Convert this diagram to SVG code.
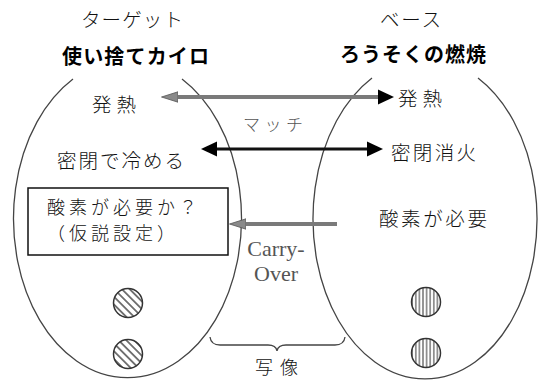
<svg xmlns="http://www.w3.org/2000/svg" width="538" height="381" viewBox="0 0 538 381">
  <style>
    .t { font-family: "Noto Sans CJK JP", "Noto Sans", sans-serif; font-size: 19.5px; font-weight: 300; fill: #111; }
    .bx { font-family: "Noto Sans CJK JP", "Noto Sans", sans-serif; font-size: 18px; font-weight: 300; fill: #111; }
    .b { font-family: "Noto Sans CJK JP", "Noto Sans", sans-serif; font-size: 20px; font-weight: 700; fill: #000; }
    .m { font-family: "Noto Sans CJK JP", "Noto Sans", sans-serif; font-size: 17px; font-weight: 300; fill: #555; }
    .e { font-family: "Liberation Serif", serif; font-size: 22px; fill: #555; text-anchor: middle; }
    .outline { fill: none; stroke: #444; stroke-width: 1.3; }
    .dot { stroke: #333; stroke-width: 1.5; }
    .box { fill: #fff; stroke: #111; stroke-width: 1.5; }
    .ga { fill: none; stroke: #7a7a7a; stroke-width: 4; }
    .ka { fill: none; stroke: #111; stroke-width: 3; }
  </style>
  <defs>
    <pattern id="diag" patternUnits="userSpaceOnUse" width="5.5" height="5.5" patternTransform="rotate(-45)">
      <line x1="2.75" y1="-1" x2="2.75" y2="6.5" stroke="#333" stroke-width="1.3"/>
    </pattern>
    <pattern id="vert" patternUnits="userSpaceOnUse" width="3.6" height="4">
      <line x1="1.8" y1="-1" x2="1.8" y2="5" stroke="#333" stroke-width="1"/>
    </pattern>
    <marker id="headK" markerUnits="userSpaceOnUse" viewBox="0 0 16 16" refX="0" refY="8" markerWidth="16" markerHeight="16" orient="auto-start-reverse">
      <path d="M0,0.5 L16,8 L0,15.5 z" fill="#000"/>
    </marker>
    <marker id="headG" markerUnits="userSpaceOnUse" viewBox="0 0 17 12" refX="0" refY="6" markerWidth="17" markerHeight="12" orient="auto-start-reverse">
      <path d="M0,0.8 L16.5,6 L0,11.2 z" fill="#8a8a8a" stroke="#555" stroke-width="0.8"/>
    </marker>
  </defs>
  <rect width="538" height="381" fill="#fff"/>

  <g id="target">
    <path class="outline" d="M73,79 A114,159 0 1 0 182,79"/>
    <text class="t" x="81" y="27" textLength="102" lengthAdjust="spacing">ターゲット</text>
    <text class="b" x="62" y="64" textLength="147" lengthAdjust="spacing">使い捨てカイロ</text>
  </g>

  <g id="base">
    <path class="outline" d="M372,78 A112,160 0 1 0 478,78"/>
    <text class="t" x="380" y="27" textLength="61" lengthAdjust="spacing">ベース</text>
    <text class="b" x="340" y="62" textLength="146" lengthAdjust="spacing">ろうそくの燃焼</text>
  </g>

  <g id="connectors">
    <path class="ga" d="M178,97 L378,97" marker-start="url(#headG)" marker-end="url(#headK)"/>
    <path class="ka" d="M217,149 L367,149" marker-start="url(#headK)" marker-end="url(#headK)"/>
    <path class="ga" d="M246,224 L337,224" marker-start="url(#headG)"/>
  </g>

  <g id="t-heat">
    <text class="t" x="92" y="112" textLength="44" lengthAdjust="spacing">発熱</text>
  </g>
  <g id="t-seal">
    <text class="t" x="57" y="168" textLength="127" lengthAdjust="spacing">密閉で冷める</text>
  </g>
  <g id="t-hypo">
    <rect class="box" x="28" y="188" width="200" height="67"/>
    <text class="bx" x="47" y="214" textLength="150" lengthAdjust="spacing">酸素が必要か？</text>
    <text class="bx" x="47" y="240" textLength="128" lengthAdjust="spacing">（仮説設定）</text>
  </g>
  <g id="t-dots">
    <circle class="dot" cx="128" cy="303" r="14.5" fill="url(#diag)"/>
    <circle class="dot" cx="128" cy="354" r="14.5" fill="url(#diag)"/>
  </g>

  <g id="b-heat">
    <text class="t" x="398" y="106" textLength="44" lengthAdjust="spacing">発熱</text>
  </g>
  <g id="b-seal">
    <text class="t" x="391" y="160" textLength="85" lengthAdjust="spacing">密閉消火</text>
  </g>
  <g id="b-oxygen">
    <text class="t" x="379" y="226" textLength="108" lengthAdjust="spacing">酸素が必要</text>
  </g>
  <g id="b-dots">
    <circle class="dot" cx="426" cy="302" r="14.5" fill="url(#vert)"/>
    <circle class="dot" cx="426" cy="353" r="14.5" fill="url(#vert)"/>
  </g>

  <g id="match">
    <text class="m" x="243" y="131" textLength="60" lengthAdjust="spacing">マッチ</text>
  </g>
  <g id="carry-over">
    <text class="e" x="276" y="256">Carry-</text>
    <text class="e" x="276" y="281">Over</text>
  </g>
  <g id="mapping">
    <path class="outline" d="M210,337 Q211,345 220,345 L268,345 Q276,345 277,351 Q278,345 286,345 L335,345 Q344,345 345,337"/>
    <text class="t" x="255" y="374" style="font-size:18px" textLength="43" lengthAdjust="spacing">写像</text>
  </g>
</svg>
